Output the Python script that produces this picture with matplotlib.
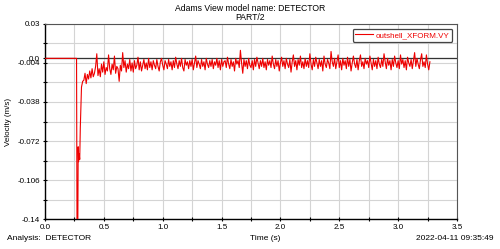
import matplotlib
matplotlib.use('Agg')
import matplotlib.pyplot as plt
import numpy as np

plt.rcParams['font.family'] = ['Liberation Sans', 'DejaVu Sans']

# start of the signal: flat, then the drop and recovery
t_start = [0.0, 0.268, 0.272, 0.276, 0.279, 0.282, 0.285, 0.29, 0.295, 0.30, 0.31, 0.32]
v_start = [0.0, 0.0, -0.15, -0.15, -0.14, -0.077, -0.09, -0.083, -0.088, -0.06, -0.025, -0.02]

# noisy part, sampled every 0.01 s from 0.33 s, values in mm/s
t_noise0 = 0.33
t_noise_step = 0.01
v_noise_mm = [
    -19, -13, -22, -14, -18, -11, -17, -9, -16, -13,
    -7, 4, -15, -9, -16, -5, -12, -3, -14, -8,
    -11, 3, -9, -14, -5, -10, 2, -13, -7, -9,
    -20, -6, -11, 5, -8, -2, -12, -5, -9, -1,
    -11, -4, -12, -2, -9, -6, 1, -10, -3, -11,
    -6, -1, -9, -4, -10, 0, -8, -3, -10, -2,
    -6, -9, -1, -7, -11, -3, 0, -6, -10, -2,
    -5, -9, -1, -7, -3, -10, -2, -8, 1, -5,
    -9, -2, -7, 0, -8, -11, -1, -6, -3, -9,
    -2, -7, -1, -10, -4, 2, -8, -2, -5, -9,
    -1, -7, -3, -10, 0, -5, -8, -2, -7, -1,
    -9, -3, -6, 0, -8, -2, -10, -1, -7, -3,
    -2, -8, 1, -5, -9, -1, -7, -3, -11, 0,
    -5, -2, -8, 7, -4, -13, -1, -7, -2, -9,
    0, -6, -8, -2, -10, -1, -7, 1, -4, -9,
    -2, -7, 0, -8, -3, -10, -1, -6, -2, -8,
    2, -5, -9, -1, -7, -2, -11, -4, 1, -7,
    -2, -9, 0, -5, -8, -1, -12, -3, 3, -7,
    -2, -10, -1, -6, 2, -8, -3, -9, 0, -7,
    -2, -8, 4, -5, -10, -1, -7, 1, -4, -9,
    -1, -7, -2, -11, 2, -5, -8, -1, -4, -9,
    6, -3, -7, 0, -9, -3, 3, -8, -2, -10,
    0, -6, -2, -9, 1, -7, -1, -11, -4, 2,
    -5, -8, -1, -10, -2, 3, -7, -3, -9, 0,
    -5, -2, -8, 2, -4, -10, -1, -7, -2, -9,
    1, -5, -8, -1, -7, 4, -3, -9, 0, -6,
    -2, -10, -1, -7, 2, -4, -8, -2, -9, 3,
    -5, -1, -8, -2, -10, 1, -4, -7, -1, -9,
    -2, 5, -7, 0, -5, -9, -1, 4, -7, -3,
    -8, 3, -5, -10, -3,
]

y_ticks = [0.03, 0.0, -0.004, -0.038, -0.072, -0.106, -0.14]
y_labels = ['0.03', '0.0', '-0.004', '-0.038', '-0.072', '-0.106', '-0.14']
y_minor = [0.013, -0.021, -0.055, -0.089, -0.123]
x_ticks = [0.0, 0.5, 1.0, 1.5, 2.0, 2.5, 3.0, 3.5]
x_minor = [0.25, 0.75, 1.25, 1.75, 2.25, 2.75, 3.25]

t_noise = t_noise0 + t_noise_step * np.arange(len(v_noise_mm))
t = np.concatenate([t_start, t_noise])
v = np.concatenate([v_start, np.array(v_noise_mm) / 1000.0])

fig = plt.figure(figsize=(5.0, 2.49), dpi=100)
ax = fig.add_axes([0.09, 0.12, 0.824, 0.784])

ax.set_xlim(0.0, 3.5)
ax.set_ylim(-0.14, 0.03)
ax.set_xticks(x_ticks)
ax.set_xticklabels(['%.1f' % x for x in x_ticks])
ax.set_xticks(x_minor, minor=True)
ax.set_yticks(y_ticks)
ax.set_yticklabels(y_labels)
ax.set_yticks(y_minor, minor=True)
ax.tick_params(labelsize=5.8, length=3, width=0.8, direction='inout', colors='black', pad=2)
ax.tick_params(which='minor', length=3, width=0.8, direction='inout')
ax.grid(True, which='both', color='#d4d4d4', linewidth=0.8)
ax.set_axisbelow(True)
for s in ['top', 'right']:
    ax.spines[s].set_color('#555555')
for s in ['left', 'bottom']:
    ax.spines[s].set_color('black')
    ax.spines[s].set_linewidth(1.0)

ax.axhline(0.0, color='#333333', linewidth=0.9, zorder=2)
ax.plot(t, v, color='#ee0000', linewidth=0.8, label='outshell_XFORM.VY', zorder=3)

leg = ax.legend(loc='upper right', fontsize=5.8, frameon=True, fancybox=True,
                framealpha=1, edgecolor='#444444', handlelength=2.2, borderpad=0.35,
                borderaxespad=0.6, handletextpad=0.3)
leg.get_frame().set_linewidth(0.9)
for txt in leg.get_texts():
    txt.set_color('#ee0000')

ax.set_ylabel('Velocity (m/s)', fontsize=5.8)
ax.yaxis.set_label_coords(-0.08, 0.5)
fig.text(0.5, 0.965, 'Adams View model name: DETECTOR', ha='center', va='center', fontsize=6.2)
fig.text(0.5, 0.93, 'PART/2', ha='center', va='center', fontsize=6.2)
fig.text(0.014, 0.044, 'Analysis:  DETECTOR', ha='left', va='center', fontsize=6)
fig.text(0.53, 0.044, 'Time (s)', ha='center', va='center', fontsize=6)
fig.text(0.988, 0.044, '2022-04-11 09:35:49', ha='right', va='center', fontsize=6)

fig.savefig('out.png', dpi=100)
